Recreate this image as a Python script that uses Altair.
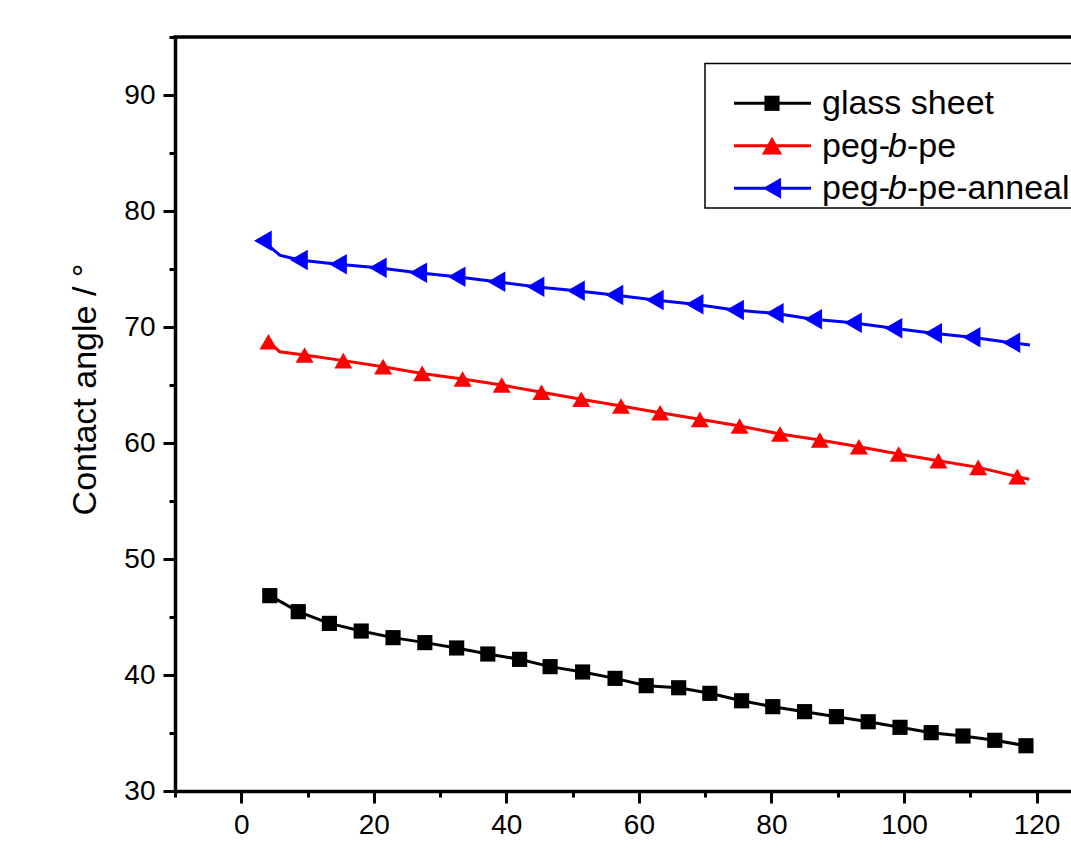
import altair as alt
import pandas as pd

# ---------------- data ----------------
series_names = ["glass sheet", "peg-b-pe", "peg-b-pe-anneal"]
series_colors = ["#000000", "#FF0000", "#0000FF"]
series_shapes = ["square", "triangle-up", "triangle-left"]

glass_x = [4.3, 8.6, 13.3, 18.1, 22.9, 27.7, 32.5, 37.2, 42.0, 46.6, 51.5, 56.4,
           61.1, 66.0, 70.7, 75.5, 80.2, 85.0, 89.8, 94.6, 99.4, 104.1, 108.9,
           113.7, 118.4]
glass_y = [46.84, 45.46, 44.45, 43.79, 43.22, 42.79, 42.33, 41.81, 41.35, 40.72,
           40.26, 39.71, 39.08, 38.90, 38.42, 37.78, 37.27, 36.84, 36.41, 35.97,
           35.49, 35.03, 34.74, 34.37, 33.90]

peg_x = [4.1, 9.55, 15.4, 21.4, 27.3, 33.4, 39.3, 45.3, 51.3, 57.3, 63.2, 69.2,
         75.2, 81.3, 87.3, 93.2, 99.2, 105.2, 111.2, 117.1]
peg_y = [68.73, 67.59, 67.10, 66.58, 66.00, 65.52, 65.00, 64.37, 63.77, 63.19,
         62.61, 62.04, 61.47, 60.78, 60.26, 59.68, 59.05, 58.47, 57.90, 57.10]

anneal_x = [3.26, 8.7, 14.6, 20.6, 26.7, 32.5, 38.5, 44.4, 50.5, 56.3, 62.4, 68.4,
            74.5, 80.5, 86.3, 92.3, 98.4, 104.4, 110.2, 116.2]
anneal_y = [77.44, 75.78, 75.40, 75.11, 74.68, 74.34, 73.91, 73.47, 73.13, 72.76,
            72.33, 71.96, 71.47, 71.18, 70.66, 70.37, 69.89, 69.46, 69.11, 68.65]

# extra points on the continuous traces (between / after markers)
peg_line_extra_x = [5.8, 118.9]
peg_line_extra_y = [67.87, 56.87]
anneal_line_extra_x = [5.8, 119.0]
anneal_line_extra_y = [76.20, 68.45]

x_major = [0, 20, 40, 60, 80, 100, 120]
x_minor = [-10, 10, 30, 50, 70, 90, 110, 130]
y_major = [30, 40, 50, 60, 70, 80, 90]
y_minor = [35, 45, 55, 65, 75, 85, 95]

# ---------------- tables ----------------
pts = pd.concat([
    pd.DataFrame({"series": series_names[0], "x": glass_x, "y": glass_y}),
    pd.DataFrame({"series": series_names[1], "x": peg_x, "y": peg_y}),
    pd.DataFrame({"series": series_names[2], "x": anneal_x, "y": anneal_y}),
], ignore_index=True)

lines = pd.concat([
    pts,
    pd.DataFrame({"series": series_names[1], "x": peg_line_extra_x, "y": peg_line_extra_y}),
    pd.DataFrame({"series": series_names[2], "x": anneal_line_extra_x, "y": anneal_line_extra_y}),
], ignore_index=True)

FONT = "Liberation Sans"
W, H = 896, 754

xscale = alt.Scale(domain=[-10, 125.2], nice=False, zero=False)
yscale = alt.Scale(domain=[30, 95], nice=False, zero=False)
color = alt.Color("series:N", scale=alt.Scale(domain=series_names, range=series_colors), legend=None)
shape = alt.Shape("series:N", scale=alt.Scale(domain=series_names, range=series_shapes), legend=None)

x_main = alt.X("x:Q", scale=xscale, axis=alt.Axis(
    orient="bottom", values=x_major, format="d", title=None, grid=False,
    tickSize=12, tickWidth=3, domainWidth=3.5, domainColor="black", tickColor="black",
    labelFontSize=28, labelFont=FONT, labelColor="black", labelPadding=8, labelFlush=False))
y_main = alt.Y("y:Q", scale=yscale, axis=alt.Axis(
    orient="left", values=y_major, format="d", grid=False,
    tickSize=12, tickWidth=3, domainWidth=3.5, domainColor="black", tickColor="black",
    labelFontSize=28, labelFont=FONT, labelColor="black", labelPadding=8, labelFlush=False,
    title="Contact angle / °", titleFont=FONT, titleFontSize=34, titleFontWeight="normal",
    titleColor="black", titleX=-80, titleY=352, titleAlign="center",
    titleBaseline="alphabetic", titleAngle=270))

line_layer = alt.Chart(lines).mark_line(strokeWidth=3, clip=True).encode(
    x=x_main, y=y_main, color=color, detail="series:N")

point_layer = alt.Chart(pts).mark_point(filled=True, opacity=1, clip=True).encode(
    x=alt.X("x:Q", scale=xscale, axis=None), y=alt.Y("y:Q", scale=yscale, axis=None),
    color=color, shape=shape,
    size=alt.Size("series:N", scale=alt.Scale(domain=series_names, range=[230, 420, 440]), legend=None))

minor_layer = alt.Chart(pts).mark_point(opacity=0).encode(
    x=alt.X("x:Q", scale=xscale, axis=alt.Axis(
        orient="bottom", values=x_minor, labels=False, domain=False, title=None, grid=False,
        tickSize=6, tickWidth=3, tickColor="black")),
    y=alt.Y("y:Q", scale=yscale, axis=alt.Axis(
        orient="left", values=y_minor, labels=False, domain=False, title=None, grid=False,
        tickSize=6, tickWidth=3, tickColor="black")))

one = pd.DataFrame({"k": [0]})

top_frame = alt.Chart(one).mark_rule(color="black", strokeWidth=3.5).encode(
    x=alt.value(-1.5), x2=alt.value(W + 5), y=alt.value(0))

# ---------------- legend (drawn by hand to allow the italic "b") ----------------
box = alt.Chart(one).mark_rect(fill="white", stroke="black", strokeWidth=1.5).encode(
    x=alt.value(530), x2=alt.value(W + 20), y=alt.value(26.5), y2=alt.value(171))

legend_layers = [box]
row_y = [66.3, 108.7, 151.3]
legend_sizes = [230, 420, 440]
text_parts = [["glass sheet", "", ""], ["peg-", "b", "-pe"], ["peg-", "b", "-pe-anneal"]]
LFS = 34
for i in range(3):
    ry = row_y[i]
    legend_layers.append(alt.Chart(one).mark_rule(color=series_colors[i], strokeWidth=3).encode(
        x=alt.value(559), x2=alt.value(636), y=alt.value(ry)))
    legend_layers.append(alt.Chart(one).mark_point(
        filled=True, opacity=1, shape=series_shapes[i], color=series_colors[i],
        size=legend_sizes[i]).encode(x=alt.value(597), y=alt.value(ry)))
    p1, p2, p3 = text_parts[i]
    legend_layers.append(alt.Chart(one).mark_text(
        text=p1, font=FONT, fontSize=LFS, align="left", baseline="alphabetic", color="black").encode(
        x=alt.value(647), y=alt.value(ry + 11)))
    if p2:
        legend_layers.append(alt.Chart(one).mark_text(
            text=p2, font=FONT, fontSize=LFS, fontStyle="italic", align="left",
            baseline="alphabetic", color="black").encode(x=alt.value(713), y=alt.value(ry + 11)))
        legend_layers.append(alt.Chart(one).mark_text(
            text=p3, font=FONT, fontSize=LFS, align="left", baseline="alphabetic",
            color="black").encode(x=alt.value(732), y=alt.value(ry + 11)))

chart = alt.layer(
    minor_layer, line_layer, point_layer, top_frame, *legend_layers
).resolve_axis(x="independent", y="independent").properties(
    width=W, height=H,
    autosize=alt.AutoSizeParams(type="none"),
    padding={"left": 175, "top": 37, "right": 0, "bottom": 67},
).configure_view(stroke=None).configure(background="white")

chart.save("out.html", embed_options={"renderer": "svg", "actions": False})
